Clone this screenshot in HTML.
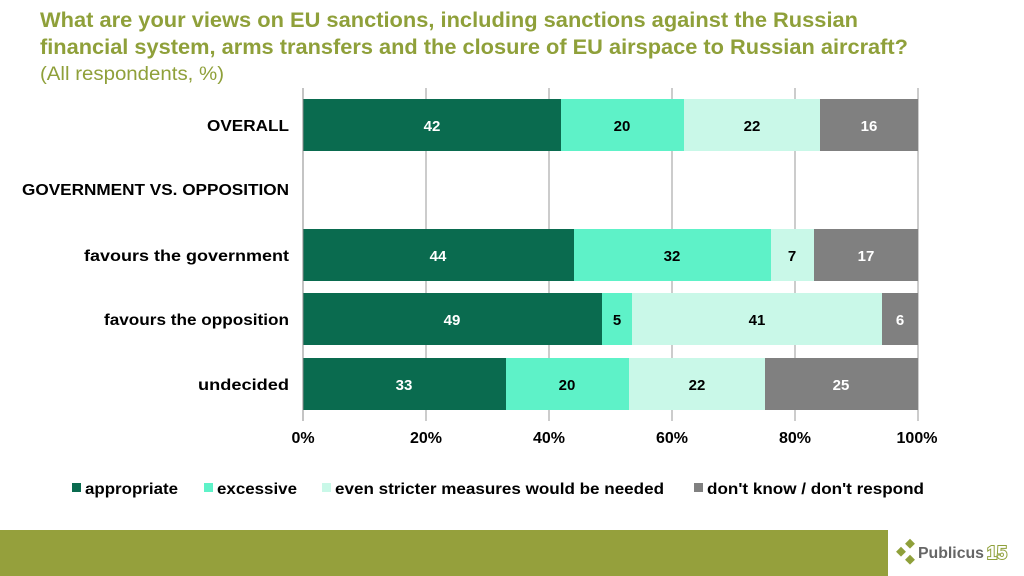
<!DOCTYPE html>
<html><head><style>body{margin:0;background:#fff}svg{display:block}</style></head><body>
<svg width="1024" height="576" xmlns="http://www.w3.org/2000/svg" font-family="Liberation Sans, sans-serif">
<text x="40" y="27" font-size="21" font-weight="bold" fill="#8fa03a" textLength="818" lengthAdjust="spacingAndGlyphs">What are your views on EU sanctions, including sanctions against the Russian</text>
<text x="40" y="54" font-size="21" font-weight="bold" fill="#8fa03a" textLength="868" lengthAdjust="spacingAndGlyphs">financial system, arms transfers and the closure of EU airspace to Russian aircraft?</text>
<text x="40" y="80" font-size="19" fill="#8fa03a" textLength="184" lengthAdjust="spacingAndGlyphs">(All respondents, %)</text>
<g stroke="#999" stroke-width="1">
<line x1="426" y1="88" x2="426" y2="421"/><line x1="549" y1="88" x2="549" y2="421"/><line x1="672" y1="88" x2="672" y2="421"/><line x1="795" y1="88" x2="795" y2="421"/><line x1="918" y1="88" x2="918" y2="421"/>
</g>
<g font-size="15" font-weight="bold" text-anchor="middle" fill="#fff">
<rect x="303" y="99" width="258" height="52" fill="#0a6b4f"/><rect x="561" y="99" width="123" height="52" fill="#5ef2c8"/><rect x="684" y="99" width="136" height="52" fill="#c9f8e8"/><rect x="820" y="99" width="98" height="52" fill="#808080"/>
<text x="432" y="131">42</text><text x="622" y="131" fill="#000">20</text><text x="752" y="131" fill="#000">22</text><text x="869" y="131">16</text>
<rect x="303" y="229" width="271" height="52" fill="#0a6b4f"/><rect x="574" y="229" width="197" height="52" fill="#5ef2c8"/><rect x="771" y="229" width="43" height="52" fill="#c9f8e8"/><rect x="814" y="229" width="104" height="52" fill="#808080"/>
<text x="438" y="261">44</text><text x="672" y="261" fill="#000">32</text><text x="792" y="261" fill="#000">7</text><text x="866" y="261">17</text>
<rect x="303" y="293" width="299" height="52" fill="#0a6b4f"/><rect x="602" y="293" width="30" height="52" fill="#5ef2c8"/><rect x="632" y="293" width="250" height="52" fill="#c9f8e8"/><rect x="882" y="293" width="36" height="52" fill="#808080"/>
<text x="452" y="325">49</text><text x="617" y="325" fill="#000">5</text><text x="757" y="325" fill="#000">41</text><text x="900" y="325">6</text>
<rect x="303" y="358" width="203" height="52" fill="#0a6b4f"/><rect x="506" y="358" width="123" height="52" fill="#5ef2c8"/><rect x="629" y="358" width="136" height="52" fill="#c9f8e8"/><rect x="765" y="358" width="153" height="52" fill="#808080"/>
<text x="404" y="390">33</text><text x="567" y="390" fill="#000">20</text><text x="697" y="390" fill="#000">22</text><text x="841" y="390">25</text>
</g>
<line x1="303" y1="88" x2="303" y2="421" stroke="#888"/>
<g font-size="16" font-weight="bold" text-anchor="end" fill="#000">
<text x="289" y="131" textLength="82" lengthAdjust="spacingAndGlyphs">OVERALL</text><text x="289" y="195" textLength="267" lengthAdjust="spacingAndGlyphs">GOVERNMENT VS. OPPOSITION</text><text x="289" y="261" textLength="205" lengthAdjust="spacingAndGlyphs">favours the government</text><text x="289" y="325" textLength="185" lengthAdjust="spacingAndGlyphs">favours the opposition</text><text x="289" y="390" textLength="91" lengthAdjust="spacingAndGlyphs">undecided</text>
</g>
<g font-size="16" font-weight="bold" text-anchor="middle">
<text x="303" y="443">0%</text><text x="426" y="443">20%</text><text x="549" y="443">40%</text><text x="672" y="443">60%</text><text x="795" y="443">80%</text><text x="917" y="443">100%</text>
</g>
<g font-size="16" font-weight="bold">
<rect x="72" y="483" width="9" height="9" fill="#0a6b4f"/><text x="85" y="494" textLength="93" lengthAdjust="spacingAndGlyphs">appropriate</text>
<rect x="204" y="483" width="9" height="9" fill="#5ef2c8"/><text x="217" y="494" textLength="80" lengthAdjust="spacingAndGlyphs">excessive</text>
<rect x="322" y="483" width="9" height="9" fill="#c9f8e8"/><text x="335" y="494" textLength="329" lengthAdjust="spacingAndGlyphs">even stricter measures would be needed</text>
<rect x="694" y="483" width="9" height="9" fill="#808080"/><text x="707" y="494" textLength="217" lengthAdjust="spacingAndGlyphs">don't know / don't respond</text>
</g>
<rect x="0" y="530" width="888" height="46" fill="#95a03c"/>
<g fill="#8fa03a"><rect x="898" y="548" width="7" height="7" transform="rotate(45 901 551)"/><rect x="907" y="540" width="7" height="7" transform="rotate(45 910 543)"/><rect x="907" y="556" width="7" height="7" transform="rotate(45 910 559)"/></g>
<text x="918" y="558" font-size="16" font-weight="bold" fill="#666" textLength="66" lengthAdjust="spacingAndGlyphs">Publicus</text>
<text x="987" y="559" font-size="18" font-weight="bold" fill="#fff" stroke="#8fa03a" stroke-width="2" paint-order="stroke">15</text>
</svg>
</body></html>
